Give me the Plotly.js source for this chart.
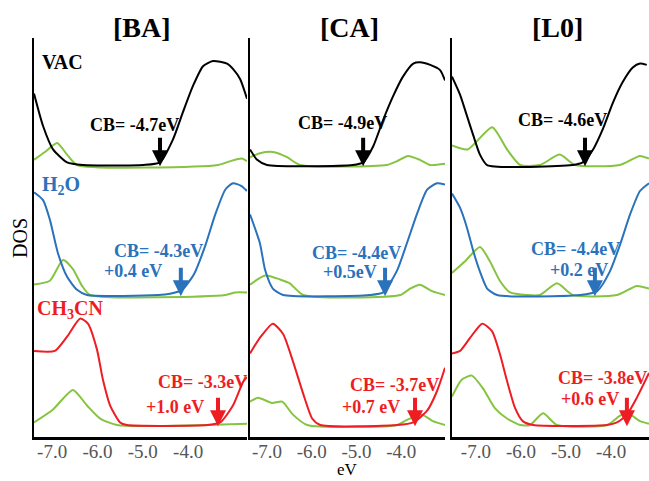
<!DOCTYPE html>
<html>
<head>
<meta charset="utf-8">
<script src="https://cdn.plot.ly/plotly-3.0.1.min.js"></script>
<style>html,body{margin:0;padding:0;background:#fff;}#chart{width:649px;height:481px;}</style>
</head>
<body>
<div id="chart"></div>
<script>
// ---------- DATA (energy in eV, DOS in arbitrary units) ----------
const panelNames = ['[BA]', '[CA]', '[L0]'];
const rowNames = ['VAC', 'H<sub>2</sub>O', 'CH<sub>3</sub>CN'];
const tickVals = [-7, -6, -5, -4];
const tickText = ['-7.0', '-6.0', '-5.0', '-4.0'];
const xRanges = [[-7.4, -2.7], [-7.38, -3.02], [-7.53, -3.16]];

// [BA]
const baVacX = [-7.4, -7.2, -6.98, -6.67, -6.32, -4.99, -4.62, -4.33, -4.11, -3.89, -3.67, -3.45, -3.14, -3.01, -2.85, -2.7];
const baVacY = [0.55, 0.30, 0.12, 0.02, 0, 0, 0.02, 0.20, 0.41, 0.61, 0.76, 0.80, 0.78, 0.74, 0.66, 0.51];
const baVacGX = [-7.4, -7.16, -6.89, -6.67, -6.45, -3.34, -3.07, -2.81, -2.7];
const baVacGY = [0.04, 0.10, 0.17, 0.08, 0, 0, 0.03, 0.05, 0.03];
const baH2oX = [-7.4, -7.2, -7.05, -6.87, -6.67, -6.45, -6.23, -4.66, -4.4, -4.13, -3.87, -3.63, -3.4, -3.18, -3.01, -2.83, -2.7];
const baH2oY = [0.79, 0.73, 0.58, 0.32, 0.14, 0.04, 0, 0, 0.01, 0.04, 0.16, 0.37, 0.62, 0.81, 0.86, 0.84, 0.80];
const baH2oGX = [-7.4, -7.05, -6.76, -6.54, -6.34, -6.16, -3.18, -2.96, -2.7];
const baH2oGY = [0.08, 0.11, 0.27, 0.20, 0.07, 0, 0, 0.02, 0.02];
const baMecnX = [-7.4, -6.94, -6.67, -6.38, -6.21, -6.01, -5.88, -5.72, -5.5, -5.35, -3.58, -3.29, -3.01, -2.79, -2.7];
const baMecnY = [0.57, 0.57, 0.68, 0.82, 0.78, 0.58, 0.35, 0.15, 0.02, 0, 0, 0.02, 0.15, 0.33, 0.37];
const baMecnGX = [-7.4, -6.98, -6.54, -6.23, -5.94, -5.57, -2.7];
const baMecnGY = [0.02, 0.12, 0.27, 0.15, 0.05, 0, 0.01];

// [CA]
const caVacX = [-7.38, -7.22, -7.0, -5.08, -4.85, -4.63, -4.4, -4.18, -3.96, -3.73, -3.58, -3.35, -3.13, -3.02];
const caVacY = [0.12, 0.04, 0, 0, 0.02, 0.14, 0.35, 0.53, 0.68, 0.78, 0.79, 0.77, 0.73, 0.65];
const caVacGX = [-7.38, -7.16, -6.87, -6.55, -6.26, -4.32, -4.09, -3.85, -3.58, -3.35, -3.02];
const caVacGY = [0.06, 0.09, 0.10, 0.06, 0, 0, 0.03, 0.07, 0.04, 0, 0.01];
const caH2oX = [-7.38, -7.16, -7.04, -6.87, -6.64, -4.7, -4.4, -4.09, -3.87, -3.64, -3.42, -3.2, -3.02];
const caH2oY = [0.62, 0.40, 0.19, 0.05, 0, 0, 0.02, 0.19, 0.40, 0.63, 0.81, 0.86, 0.85];
const caH2oGX = [-7.38, -7.04, -6.71, -6.49, -6.19, -4.02, -3.8, -3.58, -3.31, -3.02];
const caH2oGY = [0.08, 0.15, 0.12, 0.09, 0, 0, 0.05, 0.08, 0.03, 0];
const caMecnX = [-7.38, -7.16, -6.87, -6.64, -6.42, -6.19, -5.99, -5.81, -4.09, -3.73, -3.42, -3.2, -3.02];
const caMecnY = [0.55, 0.67, 0.78, 0.70, 0.49, 0.24, 0.05, 0, 0, 0.02, 0.11, 0.26, 0.44];
const caMecnGX = [-7.38, -7.2, -6.89, -6.66, -6.42, -6.1, -4.09, -3.87, -3.53, -3.29, -3.02];
const caMecnGY = [0.18, 0.21, 0.17, 0.18, 0.08, 0, 0, 0.04, 0.08, 0.03, 0];

// [L0]
const l0VacX = [-7.53, -7.35, -7.2, -7.06, -6.91, -6.75, -4.85, -4.63, -4.4, -4.18, -3.96, -3.74, -3.52, -3.36, -3.21];
const l0VacY = [0.68, 0.54, 0.38, 0.23, 0.08, 0, 0, 0.02, 0.12, 0.28, 0.48, 0.64, 0.75, 0.78, 0.77];
const l0VacGX = [-7.53, -7.18, -6.64, -6.31, -6.02, -5.58, -5.14, -4.8, -3.81, -3.36, -3.16];
const l0VacGY = [0.15, 0.12, 0.29, 0.12, 0, 0, 0.08, 0, 0, 0.07, 0.05];
const l0H2oX = [-7.53, -7.35, -7.2, -7.06, -6.91, -6.75, -6.53, -4.69, -4.31, -4.03, -3.8, -3.58, -3.36, -3.16];
const l0H2oY = [0.78, 0.67, 0.52, 0.34, 0.18, 0.05, 0, 0, 0.03, 0.18, 0.39, 0.62, 0.80, 0.86];
const l0H2oGX = [-7.53, -7.24, -6.91, -6.69, -6.47, -6.24, -5.87, -5.58, -5.2, -4.85, -3.87, -3.43, -3.16];
const l0H2oGY = [0.17, 0.26, 0.37, 0.26, 0.11, 0.02, 0, 0, 0.09, 0, 0, 0.07, 0.05];
const l0MecnX = [-7.53, -7.35, -7.13, -6.86, -6.64, -6.47, -6.31, -6.13, -5.96, -5.73, -4.09, -3.87, -3.65, -3.43, -3.16];
const l0MecnY = [0.55, 0.57, 0.67, 0.78, 0.72, 0.55, 0.34, 0.13, 0.03, 0, 0, 0.02, 0.08, 0.21, 0.40];
const l0MecnGX = [-7.53, -7.31, -7.09, -6.84, -6.58, -6.31, -6.02, -5.8, -5.51, -5.2, -4.09, -3.81, -3.63, -3.36, -3.16];
const l0MecnGY = [0.22, 0.35, 0.38, 0.28, 0.13, 0.05, 0, 0, 0.09, 0, 0, 0.07, 0.09, 0.03, 0.01];

// conduction-band arrows (eV position on the picture) and labels
const baArrowX = [-4.62, -4.16, -3.34];
const caArrowX = [-4.85, -4.36, -3.69];
const l0ArrowX = [-4.58, -4.36, -3.65];
const baCbText = ['CB= -4.7eV', 'CB= -4.3eV', 'CB= -3.3eV'];
const caCbText = ['CB= -4.9eV', 'CB= -4.4eV', 'CB= -3.7eV'];
const l0CbText = ['CB= -4.6eV', 'CB= -4.4eV', 'CB= -3.8eV'];
const baShiftText = ['', '+0.4 eV', '+1.0 eV'];
const caShiftText = ['', '+0.5eV', '+0.7 eV'];
const l0ShiftText = ['', '+0.2 eV', '+0.6 eV'];

// ---------- STYLE / LAYOUT ----------
const W = 649, H = 481;
const M = {l: 34, r: 0, t: 38, b: 44};
const PW = W - M.l - M.r, PH = H - M.t - M.b;
const rowColors = ['#000000', '#2a72bb', '#ee1d23'];
const green = '#85c441';
const rowOffsets = [2.092, 1.092, 0.092];
const yTop = 3.069;
const serif = 'Liberation Serif, Times New Roman, serif';
const domains = [[0, 213 / PW], [216 / PW, 411 / PW], [418 / PW, 1]];
const SMOOTH = 0.6;

const panelData = [
  {main: [[baVacX, baVacY], [baH2oX, baH2oY], [baMecnX, baMecnY]],
   green: [[baVacGX, baVacGY], [baH2oGX, baH2oGY], [baMecnGX, baMecnGY]],
   arrows: baArrowX, cb: baCbText, shift: baShiftText},
  {main: [[caVacX, caVacY], [caH2oX, caH2oY], [caMecnX, caMecnY]],
   green: [[caVacGX, caVacGY], [caH2oGX, caH2oGY], [caMecnGX, caMecnGY]],
   arrows: caArrowX, cb: caCbText, shift: caShiftText},
  {main: [[l0VacX, l0VacY], [l0H2oX, l0H2oY], [l0MecnX, l0MecnY]],
   green: [[l0VacGX, l0VacGY], [l0H2oGX, l0H2oGY], [l0MecnGX, l0MecnGY]],
   arrows: l0ArrowX, cb: l0CbText, shift: l0ShiftText}
];

// label positions in pixels (centre)
const cbPos = [
  [[134, 125], [158, 251], [202, 382]],
  [[342, 123], [357, 253], [394, 385]],
  [[562, 120], [575, 249], [602, 378]]
];
const shiftPos = [
  [null, [133, 271], [175, 407]],
  [null, [350, 272], [371, 407]],
  [null, [579, 270], [590, 399]]
];
const px = x => (x - M.l) / PW;
const py = y => (H - M.b - y) / PH;

const traces = [];
const annotations = [];
const layout = {
  width: W, height: H, margin: M,
  paper_bgcolor: '#ffffff', plot_bgcolor: 'rgba(0,0,0,0)',
  showlegend: false,
  font: {family: serif, color: '#000'}
};

panelData.forEach((p, i) => {
  const xa = i === 0 ? 'x' : 'x' + (i + 1);
  const ya = i === 0 ? 'y' : 'y' + (i + 1);
  p.green.forEach((g, r) => {
    traces.push({x: g[0], y: g[1].map(v => v + rowOffsets[r]), xaxis: xa, yaxis: ya,
      mode: 'lines', line: {color: green, width: 2, shape: 'spline', smoothing: SMOOTH}, hoverinfo: 'skip'});
  });
  p.main.forEach((m, r) => {
    traces.push({x: m[0], y: m[1].map(v => v + rowOffsets[r]), xaxis: xa, yaxis: ya,
      mode: 'lines', line: {color: rowColors[r], width: 2, shape: 'spline', smoothing: SMOOTH}, hoverinfo: 'skip'});
  });
  const xName = i === 0 ? 'xaxis' : 'xaxis' + (i + 1);
  const yName = i === 0 ? 'yaxis' : 'yaxis' + (i + 1);
  layout[xName] = {
    domain: domains[i], range: xRanges[i], anchor: ya,
    tickvals: tickVals, ticktext: tickText, ticks: '', ticklen: 0,
    tickfont: {family: serif, size: 19, color: '#555555'},
    ticklabelstandoff: -5,
    showline: true, linecolor: '#000', linewidth: 3,
    showgrid: false, zeroline: false, fixedrange: true
  };
  layout[yName] = {
    domain: [0, 1], range: [0, yTop], anchor: xa,
    showline: true, linecolor: '#000', linewidth: 2.5,
    showticklabels: false, ticks: '', showgrid: false, zeroline: false, fixedrange: true
  };
  // panel title
  annotations.push({xref: 'paper', yref: 'paper', x: px([142, 349, 557][i]), y: py(28),
    text: '<b>' + panelNames[i] + '</b>', showarrow: false, xanchor: 'center', yanchor: 'middle',
    font: {family: serif, size: 28, color: '#000'}});
  // arrows and labels
  p.arrows.forEach((ax, r) => {
    annotations.push({xref: xa, yref: ya, x: ax, y: rowOffsets[r] - 0.01, text: '',
      showarrow: true, arrowhead: 2, arrowsize: 0.8, arrowwidth: 4, arrowcolor: rowColors[r],
      ax: 0, ay: -30, standoff: 0, startstandoff: 0});
    annotations.push({xref: 'paper', yref: 'paper', x: px(cbPos[i][r][0]), y: py(cbPos[i][r][1]),
      text: '<b>' + p.cb[r] + '</b>', showarrow: false, xanchor: 'center', yanchor: 'middle',
      font: {family: serif, size: 18, color: rowColors[r]}});
    if (p.shift[r]) {
      annotations.push({xref: 'paper', yref: 'paper', x: px(shiftPos[i][r][0]), y: py(shiftPos[i][r][1]),
        text: '<b>' + p.shift[r] + '</b>', showarrow: false, xanchor: 'center', yanchor: 'middle',
        font: {family: serif, size: 18, color: rowColors[r]}});
    }
  });
});

// row labels
const rowLabelPos = [[40, 62], [40, 185], [35, 309]];
rowNames.forEach((t, r) => {
  annotations.push({xref: 'paper', yref: 'paper', x: px(rowLabelPos[r][0]), y: py(rowLabelPos[r][1]),
    text: '<b>' + t + '</b>', showarrow: false, xanchor: 'left', yanchor: 'middle',
    font: {family: serif, size: 20, color: rowColors[r]}});
});
// axis titles
annotations.push({xref: 'paper', yref: 'paper', x: px(20), y: py(238), text: 'DOS', textangle: -90,
  showarrow: false, xanchor: 'center', yanchor: 'middle', font: {family: serif, size: 20, color: '#000'}});
annotations.push({xref: 'paper', yref: 'paper', x: px(347), y: py(469), text: 'eV',
  showarrow: false, xanchor: 'center', yanchor: 'middle', font: {family: serif, size: 17, color: '#000'}});

layout.annotations = annotations;
Plotly.newPlot('chart', traces, layout, {staticPlot: true, displayModeBar: false});
</script>
</body>
</html>
